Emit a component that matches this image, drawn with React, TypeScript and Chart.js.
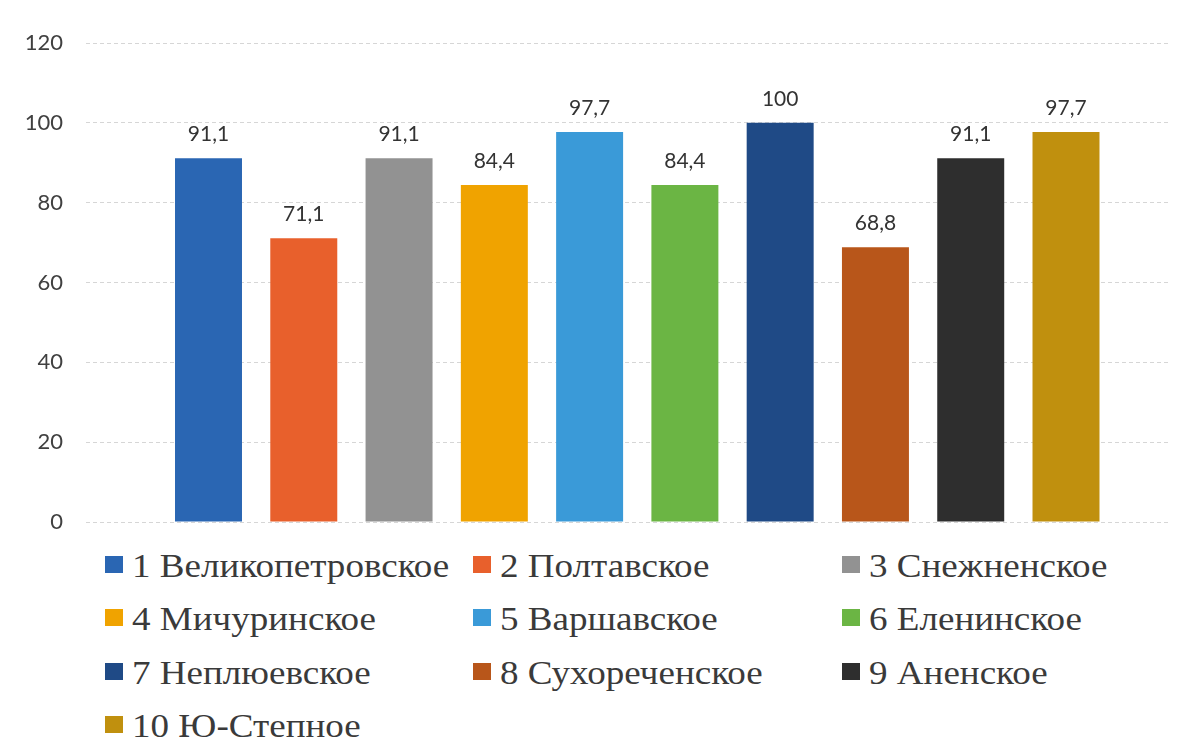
import React, { useEffect, useRef } from "react";
import { Chart, registerables } from "chart.js";

Chart.register(...registerables);

const categories: string[] = [
  "1 Великопетровское",
  "2 Полтавское",
  "3 Снежненское",
  "4 Мичуринское",
  "5 Варшавское",
  "6 Еленинское",
  "7 Неплюевское",
  "8 Сухореченское",
  "9 Аненское",
  "10 Ю-Степное",
];
const values: number[] = [91.1, 71.1, 91.1, 84.4, 97.7, 84.4, 100, 68.8, 91.1, 97.7];
const colors: string[] = [
  "#2a66b3",
  "#e8602c",
  "#929292",
  "#f0a300",
  "#3a9ad8",
  "#6bb544",
  "#1f4a86",
  "#b8561a",
  "#2e2e2e",
  "#c0900e",
];
const yMin = 0;
const yMax = 120;
const yStep = 20;

const fmt = (v: number) => String(v).replace(".", ",");

const labelPlugin = {
  id: "barValueLabels",
  afterDatasetsDraw(chart: any) {
    const ctx = chart.ctx;
    ctx.save();
    ctx.font = "21px Lato";
    ctx.fillStyle = "#333333";
    ctx.textAlign = "center";
    ctx.textBaseline = "alphabetic";
    chart.data.datasets.forEach((ds: any, i: number) => {
      const meta = chart.getDatasetMeta(i);
      meta.data.forEach((bar: any, j: number) => {
        const v = ds.data[j].y;
        ctx.fillText(fmt(v), bar.x, bar.y - 17);
      });
    });
    ctx.restore();
  },
};

const colX = [105, 473, 842];
const rowBase = [577, 630, 684, 737];

export default function App() {
  const ref = useRef<HTMLCanvasElement | null>(null);
  useEffect(() => {
    if (!ref.current) return;
    const chart = new Chart(ref.current, {
      type: "bar",
      data: {
        datasets: categories.map((name, i) => ({
          label: name,
          data: [{ x: i + 1, y: values[i] }],
          backgroundColor: colors[i],
          borderWidth: 0,
        })),
      },
      options: {
        responsive: false,
        maintainAspectRatio: false,
        animation: false,
        devicePixelRatio: 1,
        datasets: { bar: { grouped: false, barPercentage: 0.703, categoryPercentage: 1 } } as any,
        layout: { padding: { top: 43, right: 11, bottom: 23, left: 0 } },
        plugins: { legend: { display: false }, tooltip: { enabled: false } },
        scales: {
          x: {
            type: "linear",
            display: false,
            offset: false,
            min: -0.2857,
            max: 11.0915,
            grid: { display: false },
          },
          y: {
            min: yMin,
            max: yMax,
            afterFit: (s: any) => {
              s.width = 86;
            },
            ticks: {
              stepSize: yStep,
              padding: 0,
              color: "#404040",
              font: { family: "Lato", size: 22 },
              callback: (v: any) => fmt(Number(v)),
            },
            grid: {
              color: "#d6d6d6",
              drawTicks: true,
              tickLength: 23,
              tickColor: "rgba(0,0,0,0)",
              lineWidth: 1,
            },
            border: { display: false, dash: [4, 3] },
          },
        },
      },
      plugins: [labelPlugin],
    });
    return () => chart.destroy();
  }, []);

  return (
    <div style={{ position: "absolute", left: 0, top: 0, width: 1181, height: 756, background: "#fff", overflow: "hidden" }}>
      <canvas
        ref={ref}
        width={1181}
        height={545}
        style={{ display: "block", width: 1181, height: 545 }}
      />
      {categories.map((name, i) => {
        const r = Math.floor(i / 3);
        const c = i % 3;
        return (
          <React.Fragment key={name}>
            <div
              style={{
                position: "absolute",
                left: colX[c],
                top: rowBase[r] - 21,
                width: 18,
                height: 17,
                background: colors[i],
              }}
            />
            <div
              style={{
                position: "absolute",
                left: colX[c] + 27,
                top: rowBase[r] - 28.5,
                fontFamily: "'Liberation Serif', serif",
                fontSize: 34,
                lineHeight: "34px",
                color: "#3a3a3a",
                whiteSpace: "nowrap",
                transform: "scaleX(1.09)",
                transformOrigin: "left center",
              }}
            >
              {name}
            </div>
          </React.Fragment>
        );
      })}
    </div>
  );
}
